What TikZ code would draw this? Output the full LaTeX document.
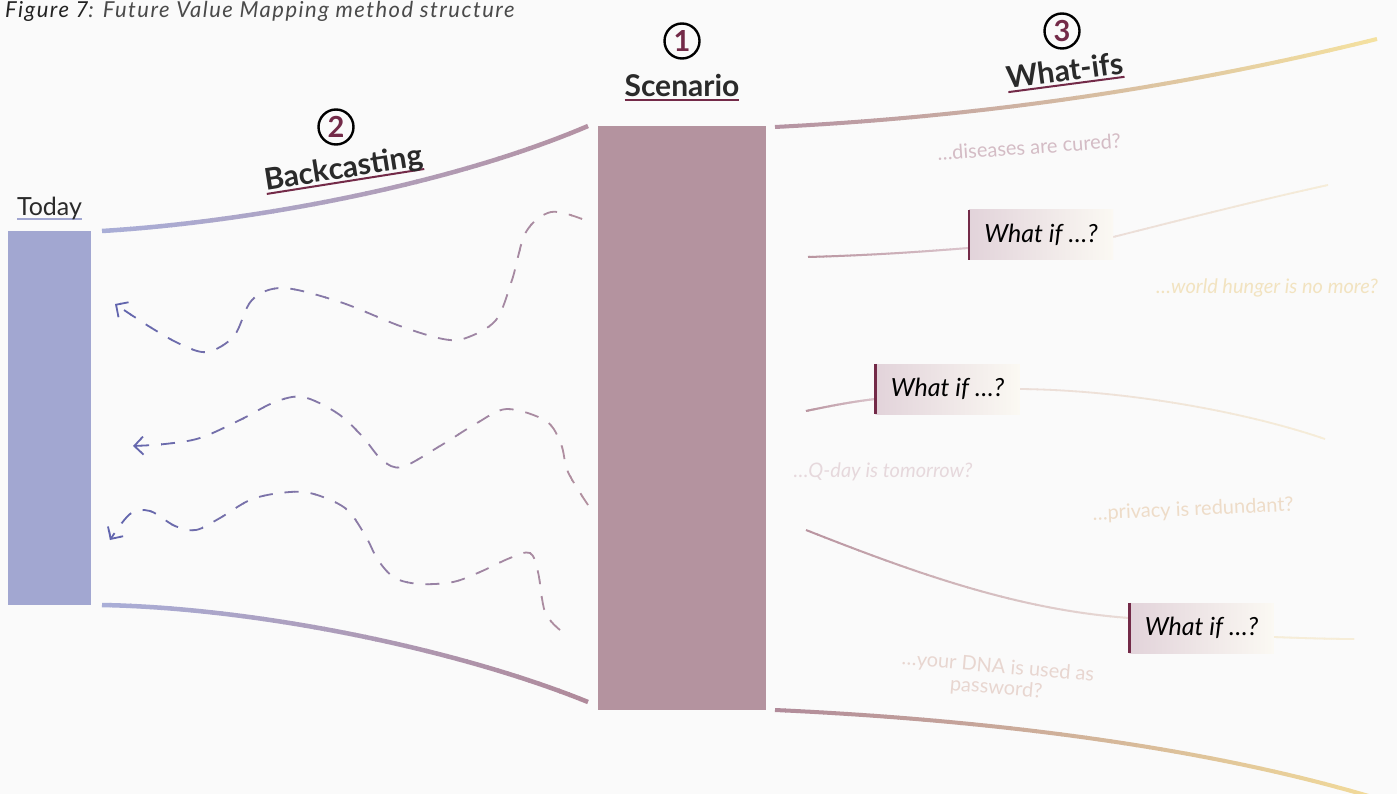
\documentclass[tikz,border=0pt]{standalone}
\usepackage{fontspec}
\setmainfont{Lato}
\usetikzlibrary{arrows.meta}

\definecolor{bgcol}{HTML}{FAFAFA}
\definecolor{todayblue}{HTML}{A2A7D1}
\definecolor{scencol}{HTML}{B4939F}
\definecolor{maroon}{HTML}{732A48}
\definecolor{titlecol}{HTML}{2A2A2A}
\definecolor{capdark}{HTML}{222222}
\definecolor{capgray}{HTML}{4A4A4A}
\definecolor{fblue}{HTML}{A9AED8}
\definecolor{fmauve}{HTML}{B492A3}
\definecolor{fmauvedeep}{HTML}{B08A9A}
\definecolor{fgold}{HTML}{F5E2A0}
\definecolor{fgoldb}{HTML}{F2DB9A}
\definecolor{dblue}{HTML}{5F64AE}
\definecolor{dmauve}{HTML}{B3909F}
\definecolor{boxl}{HTML}{E2D3DA}
\definecolor{boxr}{HTML}{FBF9F3}
\definecolor{thinmauve}{HTML}{B8939F}
\definecolor{thinpink}{HTML}{DCC6CD}
\definecolor{thinpale}{HTML}{EBDDD8}
\definecolor{thincream}{HTML}{F6EDD8}
\definecolor{tdis}{HTML}{D4BCC5}
\definecolor{thun}{HTML}{F2E3C0}
\definecolor{tqday}{HTML}{E6D8DC}
\definecolor{tpriv}{HTML}{EEDCC8}
\definecolor{tdna}{HTML}{E8D6D0}

% text with a coloured rule under it
\newcommand\ulinetext[2]{\setbox0=\hbox{#2}\rlap{\color{#1}\rule[-4.5pt]{\wd0}{2pt}}\box0}

% stroke a path whose colour runs from #3 (at x=#1) to #4 (at x=#2)
\newcommand\gradline[6]{%
  \foreach \gi in {0,...,47}{%
    \pgfmathsetmacro\gstep{(#2-#1)/48}%
    \pgfmathsetmacro\gxa{#1+\gstep*\gi}%
    \pgfmathsetmacro\gxb{#1+\gstep*(\gi+1)}%
    \pgfmathsetmacro\gpc{100-(\gi+0.5)*100/48}%
    \begin{scope}
      \clip (\gxa-0.4,-20) rectangle (\gxb+0.4,820);
      \draw[#5,draw=#3!\gpc!#4] #6;
    \end{scope}
  }%
}

\tikzset{
  numcirc/.style={circle, draw=black, line width=2.4pt, minimum size=35pt,
    inner sep=0pt, text=maroon, font=\fontsize{29}{29}\selectfont\bfseries},
  headline/.style={anchor=base, inner sep=0pt, text=titlecol,
    font=\fontsize{30}{30}\selectfont\bfseries},
  whatif/.style={minimum width=144pt, minimum height=50pt, inner sep=0pt,
    left color=boxl, right color=boxr, text=black,
    font=\fontsize{25}{25}\selectfont\itshape},
  bar/.style={draw=maroon, line width=2.6pt},
  faint/.style={inner sep=0pt, font=\fontsize{20}{21}\selectfont},
  faintit/.style={faint, font=\fontsize{20}{21}\selectfont\itshape},
  funnel/.style={line width=4.5pt},
  thin/.style={line width=2pt},
  backarrow/.style={line width=1.8pt, dash pattern=on 14pt off 12pt,
    -{Straight Barb[length=9pt,width=18pt,line width=1.8pt]}},
}

\begin{document}
\begin{tikzpicture}[x=1pt,y=-1pt]
\fill[bgcol] (0,0) rectangle (1397,794);
\useasboundingbox (0,0) rectangle (1397,794);

% caption
\node[anchor=base west, inner sep=0pt,
      font=\fontsize{22}{26}\selectfont\itshape\addfontfeatures{LetterSpace=6.7}]
  (cap) at (5,17.5) {\color{capdark}Figure 7\color{capgray}: Future Value Mapping method structure};

% the two bars
\node[fill=todayblue, minimum width=83pt, minimum height=374pt, inner sep=0pt]
  (todaybar) at (49.5,418) {};
\node[fill=scencol, minimum width=168pt, minimum height=584pt, inner sep=0pt]
  (scenbar) at (682,418) {};

% headings
\node[anchor=base, inner sep=0pt, text=titlecol, font=\fontsize{25}{25}\selectfont]
  (today) at (49.5,216) {\ulinetext{todayblue}{Today}};
\node[numcirc] (n1) at (682,41) {1};
\node[headline] (scn) at (682,97) {\ulinetext{maroon}{Scenario}};
\node[numcirc] (n2) at (336,127) {2};
\node[headline, rotate=9] (bc) at (345,178) {\ulinetext{maroon}{Backcasting}};
\node[numcirc] (n3) at (1062,31) {3};
\node[headline, rotate=7.5] (wi) at (1066,81) {\ulinetext{maroon}{What-ifs}};

% funnel edges
\coordinate (ulA) at (102,231);  \coordinate (ulB) at (588,126);
\coordinate (llA) at (102,605);  \coordinate (llB) at (588,702);
\coordinate (urA) at (775,127);  \coordinate (urB) at (1377,39);
\coordinate (lrA) at (775,710);  \coordinate (lrB) at (1372,797);
\gradline{100}{590}{fblue}{fmauve}{funnel}{(ulA) .. controls (250,222) and (450,185) .. (ulB)}
\gradline{100}{590}{fblue}{fmauvedeep}{funnel}{(llA) .. controls (260,608) and (460,650) .. (llB)}
\gradline{773}{1380}{fmauve}{fgold}{line width=4pt}{(urA) .. controls (950,118) and (1150,95) .. (urB)}
\gradline{773}{1375}{fmauvedeep}{fgoldb}{line width=4pt}{(lrA) .. controls (950,718) and (1180,740) .. (lrB)}

% backcasting paths
\coordinate (a1s) at (582,219); \coordinate (a1e) at (115,304);
\coordinate (a2s) at (588,505); \coordinate (a2e) at (133,446);
\coordinate (a3s) at (560,630); \coordinate (a3e) at (110,540);
\gradline{100}{592}{dblue}{dmauve}{backarrow}{plot[smooth, tension=0.55] coordinates {(a1s) (551,212) (526,232) (512,280) (496,320) (466,338) (443,339) (400,326) (340,302) (283,288) (252,300) (234,336) (207,352) (180,344) (150,327) (a1e)}}
\gradline{100}{592}{dblue}{dmauve}{backarrow}{plot[smooth, tension=0.55] coordinates {(a2s) (568,472) (561,444) (546,421) (507,409) (477,423) (440,446) (402,467) (382,460) (362,436) (337,413) (303,397) (275,402) (240,420) (200,438) (165,444) (a2e)}}
\gradline{100}{592}{dblue}{dmauve}{backarrow}{plot[smooth, tension=0.55] coordinates {(a3s) (545,612) (538,572) (530,553) (510,558) (480,572) (453,582) (420,584) (395,578) (378,560) (365,535) (345,508) (310,493) (280,493) (250,500) (220,518) (196,530) (175,526) (150,511) (130,514) (a3e)}}

% what-if boxes
\node[whatif] (w1) at (1041,235) {What if …?};
\node[whatif] (w2) at (947.5,389) {What if …?};
\node[whatif] (w3) at (1201.5,628) {What if …?};

% branches into and out of the boxes
\coordinate (b1s) at (808,257); \coordinate (b1e) at (1328,185);
\coordinate (b2s) at (806,411); \coordinate (b2e) at (1325,439);
\coordinate (b3s) at (806,530); \coordinate (b3e) at (1354,639);
\gradline{806}{971}{thinmauve}{thinpink}{thin}{(b1s) .. controls (880,255) and (930,251) .. ([yshift=-13pt]w1.west)}
\gradline{1111}{1330}{thinpale}{thincream}{line width=1.8pt}{([yshift=-2pt]w1.east) .. controls (1200,215) and (1260,200) .. (b1e)}
\gradline{804}{877}{thinmauve}{thinpink}{thin}{(b2s) .. controls (830,406) and (850,402) .. ([yshift=-10pt]w2.west)}
\gradline{1018}{1327}{thinpale}{thincream}{line width=1.8pt}{(w2.east) .. controls (1120,390) and (1240,410) .. (b2e)}
\gradline{804}{1131}{thinmauve}{thinpale}{thin}{(b3s) .. controls (920,575) and (1020,610) .. ([yshift=10pt]w3.west)}
\gradline{1272}{1356}{thincream}{thincream}{line width=1.8pt}{([yshift=-9pt]w3.east) .. controls (1300,638) and (1330,639) .. (b3e)}

% redraw boxes above the branch ends, with their left bars
\node[whatif] at (w1) {What if …?};
\node[whatif] at (w2) {What if …?};
\node[whatif] at (w3) {What if …?};
\draw[bar] (w1.north west) -- (w1.south west);
\draw[bar] (w2.north west) -- (w2.south west);
\draw[bar] (w3.north west) -- (w3.south west);

% faint example questions
\node[faint, text=tdis, rotate=4] (q1) at (1029,147) {…diseases are cured?};
\node[faintit, text=thun] (q2) at (1267,288) {…world hunger is no more?};
\node[faintit, text=tqday] (q3) at (883,472) {…Q-day is tomorrow?};
\node[faint, text=tpriv, rotate=2.5] (q4) at (1193,510) {…privacy is redundant?};
\node[faint, text=tdna, rotate=-5, align=center] (q5) at (997,678) {…your DNA is used as\\password?};
\end{tikzpicture}
\end{document}
